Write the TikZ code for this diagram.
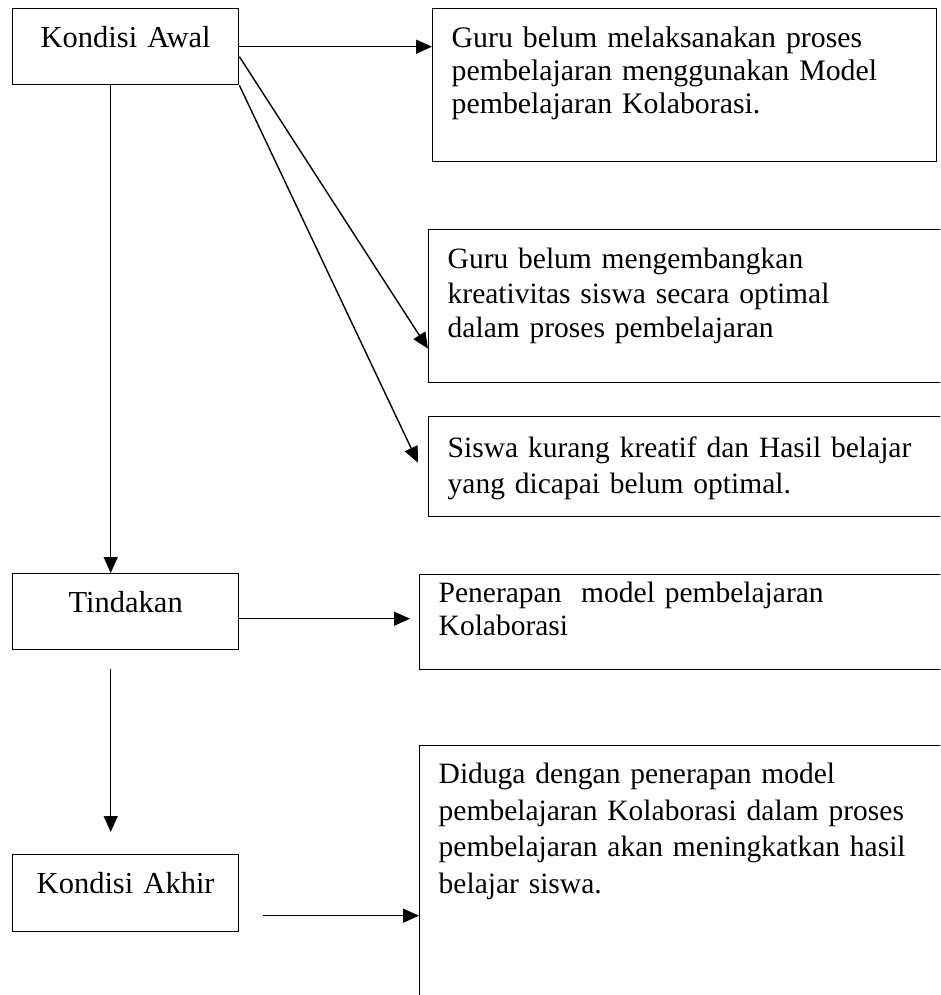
\documentclass[tikz,border=0pt]{standalone}
\usepackage{fontspec}
\setmainfont{Liberation Serif}
\usetikzlibrary{positioning, arrows.meta}

\begin{document}
\begin{tikzpicture}[x=1pt,y=-1pt,line width=1.4pt,>={Triangle[length=16pt,width=14pt]},
    font=\fontsize{29.5}{34}\selectfont,
    kotak/.style={draw, anchor=north west, inner xsep=19pt, inner ysep=0pt},
    kiri/.style={kotak, text width=188pt, align=center, text height=39pt,
        font=\fontsize{30.5}{34}\selectfont},
    kanan/.style={kotak, align=left}]
        \clip (0,0) rectangle (940,995);
        \node[kiri, text depth=37pt] (awal) at (12,8) {Kondisi Awal};
        \node[kiri, text depth=37pt] (tindakan) at (12,573) {Tindakan};
        \node[kiri, text depth=38pt] (akhir) at (12,854) {Kondisi Akhir};
        \node[kanan, text width=466pt, text height=39pt, text depth=114pt,
            font=\fontsize{29.8}{33}\selectfont] (k1) at (432,8)
            {Guru belum melaksanakan proses\\pembelajaran menggunakan Model\\pembelajaran Kolaborasi.};
        \node[kanan, text width=494pt, text height=39pt, text depth=114pt,
            font=\fontsize{29.5}{34.5}\selectfont] (k2) at (428,229)
            {Guru belum mengembangkan\\kreativitas siswa secara optimal\\dalam proses pembelajaran};
        \node[kanan, text width=494pt, text height=41pt, text depth=59pt,
            font=\fontsize{29.5}{36}\selectfont] (k3) at (428,416)
            {Siswa kurang kreatif dan Hasil belajar\\yang dicapai belum optimal.};
        \node[kanan, text width=503pt, text height=28pt, text depth=67pt,
            font=\fontsize{29.5}{33}\selectfont] (k4) at (419,574)
            {Penerapan\ \ model pembelajaran\\Kolaborasi};
        \node[kanan, text width=503pt, text height=38pt, text depth=227pt,
            font=\fontsize{29.5}{36.5}\selectfont] (k5) at (419,745)
            {Diduga dengan penerapan model\\pembelajaran Kolaborasi dalam proses\\pembelajaran akan meningkatkan hasil\\belajar siswa.};
        \path[->]
            (awal) edge (awal -| k1.west)
            ([yshift=-10pt]awal.east) edge ([yshift=-42.5pt]k2.west)
            (awal.south east) edge ([xshift=-10pt,yshift=4pt]k3.west)
            ([xshift=-15pt]awal.south) edge ([xshift=-15pt]tindakan.north)
            ([yshift=-7pt]tindakan.east) edge ([xshift=-9pt,yshift=3.5pt]k4.west)
            ([xshift=-15pt,yshift=-19pt]tindakan.south) edge ([xshift=-15pt,yshift=22pt]akhir.north)
            ([xshift=24pt,yshift=-22.5pt]akhir.east) edge ([yshift=-37.5pt]k5.west);
    \end{tikzpicture}
\end{document}
